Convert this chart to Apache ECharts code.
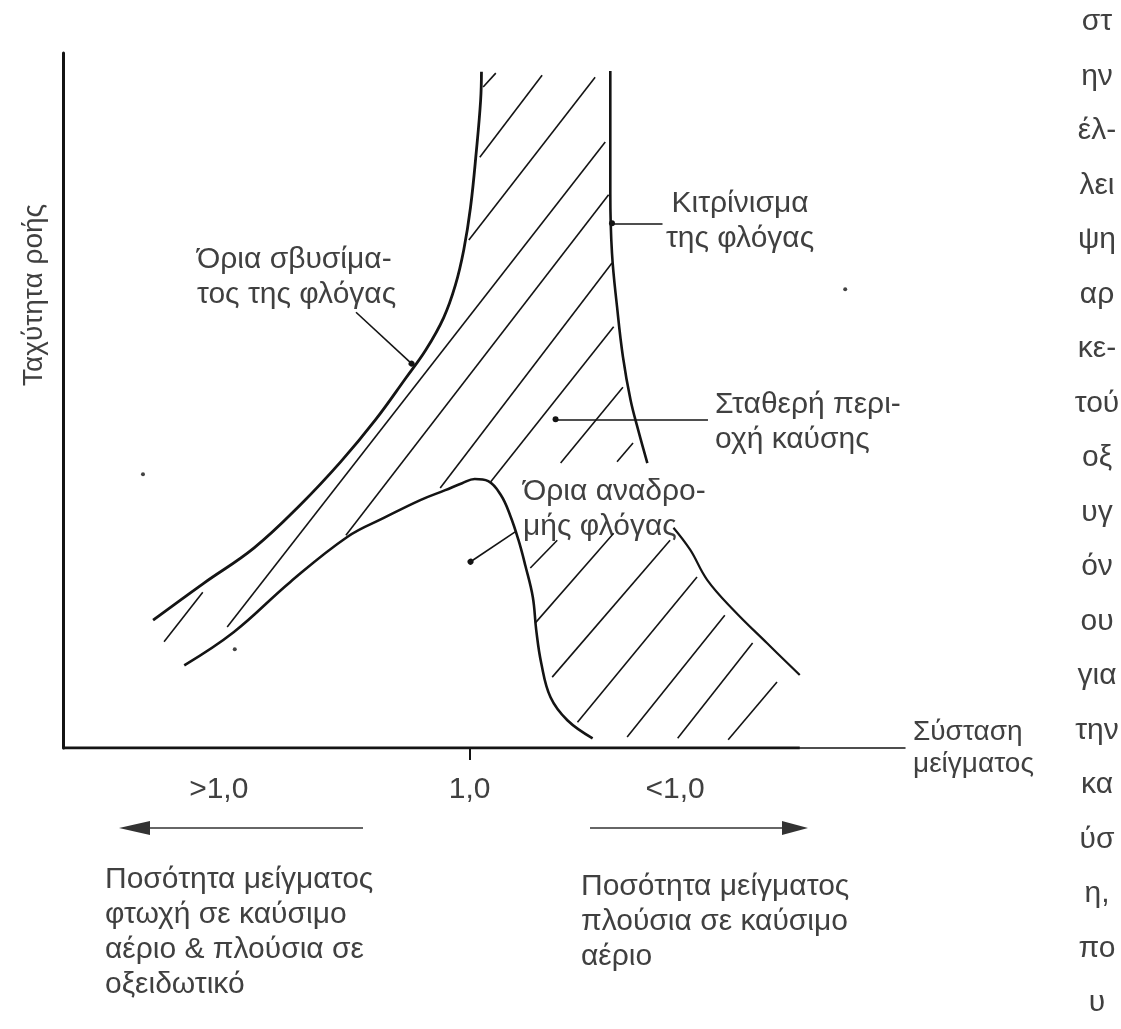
<!DOCTYPE html>
<html>
<head>
<meta charset="utf-8">
<script src="https://cdn.jsdelivr.net/npm/echarts@6/dist/echarts.min.js"></script>
<style>
  html, body { margin: 0; padding: 0; background: #fff; }
  #chart-container { width: 1121px; height: 1029px; }
</style>
</head>
<body>
<div id="chart-container"></div>
<script>
// x = mixture composition (0..100 across the axis), y = flow velocity (0..100)
var blowOffLimit = [[10.7,18.4],[16.7,23.7],[22.7,28.8],[28.2,35.0],[33.0,41.2],[37.1,47.2],[40.7,53.2],[43.1,57.3],[45.2,61.9],[46.6,66.6],[47.6,71.7],[48.4,77.8],[49.1,86.0],[49.6,93.2],[49.7,97.3]];
var yellowTip = [[65.0,97.4],[65.0,89.0],[65.0,79.9],[65.2,71.2],[65.8,63.5],[66.5,56.3],[67.4,50.1],[68.3,45.8],[69.4,41.0]];
var richLimit = [[72.5,31.7],[74.5,28.5],[76.5,24.2],[79.6,19.9],[83.6,15.1],[87.5,10.5]];
var flashback = [[14.4,11.9],[20.3,16.7],[27.0,23.9],[33.8,30.4],[38.1,33.1],[42.5,35.7],[45.4,37.1],[47.4,38.1],[48.9,38.7],[50.5,38.4],[52.0,36.4],[53.1,33.5],[54.1,29.9],[54.9,26.3],[55.8,21.7],[56.2,17.0],[56.8,12.2],[57.9,7.3],[59.9,4.0],[62.9,1.4]];

// hatching of the stable region: [x1, y1, x2, y2]
var hatch = [
  [12.0,15.3,16.6,22.4],[49.9,95.1,51.4,97.1],[49.5,85.0,56.9,96.8],[48.2,73.1,63.2,96.5],
  [19.5,17.4,64.4,87.2],[33.6,30.6,64.8,79.6],[44.8,37.4,65.2,69.8],[50.8,38.3,65.4,60.6],
  [59.1,41.0,66.5,51.9],[65.8,41.2,67.7,43.9],
  [55.5,25.9,58.7,29.9],[56.1,18.0,65.4,30.9],[58.1,10.2,72.1,29.9],[61.1,3.7,75.3,24.6],
  [67.0,1.6,78.6,19.1],[73.0,1.4,81.9,15.1],[79.0,1.2,84.8,9.5]
];

// leader lines from the labels: [from, to]
var pointers = [
  [[34.8,62.7],[41.4,55.3]],
  [[71.2,75.5],[65.2,75.5]],
  [[76.6,47.3],[58.5,47.3]],
  [[53.7,31.1],[48.4,26.8]]
];
var specks = [[92.9,66.0],[9.5,39.4],[20.4,14.2]];
var thickBase = [[0,0],[87.5,0]];

var tickPositions = [18.5, 48.3, 72.7];
var tickLabels = ['>1,0', '1,0', '<1,0'];

var sideColumn = ['στ','ην','έλ-','λει','ψη','αρ','κε-','τού','οξ','υγ','όν','ου','για','την','κα','ύσ','η,','πο','υ'];

var FONT = '"Liberation Sans", Arial, sans-serif';
var TXT = '#404040';
var INK = '#141414';

var dom = document.getElementById('chart-container');
var myChart = echarts.init(dom, null, { renderer: 'canvas' });

function curve(data, w) {
  return {
    type: 'line', data: data, smooth: 0.4, symbol: 'none', silent: true,
    lineStyle: { color: INK, width: w }
  };
}

function label(text, x, y, align) {
  return {
    type: 'text', x: x, y: y, silent: true,
    style: { text: text, fontSize: 30, fontFamily: FONT, fill: TXT, lineHeight: 35, align: align || 'left', verticalAlign: 'top' }
  };
}

var graphics = [
  label('Όρια σβυσίμα-\nτος της φλόγας', 197, 242),
  label('Κιτρίνισμα\nτης φλόγας', 740, 186, 'center'),
  label('Σταθερή περι-\nοχή καύσης', 715, 387),
  label('Όρια αναδρο-\nμής φλόγας', 523, 474),
  label('Ποσότητα μείγματος\nφτωχή σε καύσιμο\nαέριο & πλούσια σε\nοξειδωτικό', 105, 862),
  label('Ποσότητα μείγματος\nπλούσια σε καύσιμο\nαέριο', 581, 869),
  {
    type: 'text', x: 34, y: 295, rotation: Math.PI / 2, silent: true,
    style: { text: 'Ταχύτητα ροής', fontSize: 28, fontFamily: FONT, fill: TXT, align: 'center', verticalAlign: 'middle' }
  },
  { type: 'line', shape: { x1: 140, y1: 828, x2: 363, y2: 828 }, style: { stroke: '#333', lineWidth: 1.5 } },
  { type: 'polygon', shape: { points: [[119, 828], [150, 821], [150, 835]] }, style: { fill: '#333' } },
  { type: 'line', shape: { x1: 590, y1: 828, x2: 790, y2: 828 }, style: { stroke: '#333', lineWidth: 1.5 } },
  { type: 'polygon', shape: { points: [[808, 828], [782, 821], [782, 835]] }, style: { fill: '#333' } }
];

sideColumn.forEach(function (t, i) {
  graphics.push({
    type: 'text', x: 1097, y: 22 + i * 54.5, silent: true,
    style: { text: t, fontSize: 30, fontFamily: FONT, fill: TXT, align: 'center', verticalAlign: 'middle' }
  });
});

var option = {
  animation: false,
  backgroundColor: '#fff',
  grid: { left: 63, top: 53, width: 842, height: 695 },
  xAxis: {
    type: 'value', min: 0, max: 100,
    axisLine: { lineStyle: { color: INK, width: 1.5 } },
    axisTick: { show: true, length: 12, customValues: [tickPositions[1]], lineStyle: { color: INK, width: 2 } },
    axisLabel: {
      customValues: tickPositions, margin: 27, fontSize: 30, fontFamily: FONT, color: TXT,
      formatter: function (v) { return tickLabels[tickPositions.indexOf(v)]; }
    },
    splitLine: { show: false },
    name: 'Σύσταση\nμείγματος', nameLocation: 'end', nameGap: 8,
    nameTextStyle: { fontSize: 28, fontFamily: FONT, color: TXT, lineHeight: 32, align: 'left', verticalAlign: 'middle', padding: [6, 0, 0, 0] }
  },
  yAxis: {
    type: 'value', min: 0, max: 100,
    axisLine: { show: true, lineStyle: { color: INK, width: 3 } },
    axisTick: { show: false }, axisLabel: { show: false }, splitLine: { show: false }
  },
  graphic: graphics,
  series: [
    curve(blowOffLimit, 2.8),
    curve(yellowTip, 2.6),
    curve(richLimit, 2.2),
    curve(flashback, 2.6),
    { type: 'line', data: thickBase, symbol: 'none', silent: true, lineStyle: { color: INK, width: 3 } },
    {
      type: 'lines', coordinateSystem: 'cartesian2d', silent: true,
      data: hatch.map(function (s) { return { coords: [[s[0], s[1]], [s[2], s[3]]] }; }),
      lineStyle: { color: INK, width: 1.6, opacity: 1 }
    },
    {
      type: 'lines', coordinateSystem: 'cartesian2d', silent: true,
      symbol: ['none', 'circle'], symbolSize: 6,
      data: pointers.map(function (p) { return { coords: p }; }),
      lineStyle: { color: INK, width: 1.6, opacity: 1 }
    },
    { type: 'scatter', data: specks, symbolSize: 4, silent: true, itemStyle: { color: INK } }
  ]
};

myChart.setOption(option);
window.addEventListener('resize', myChart.resize);
</script>
</body>
</html>
